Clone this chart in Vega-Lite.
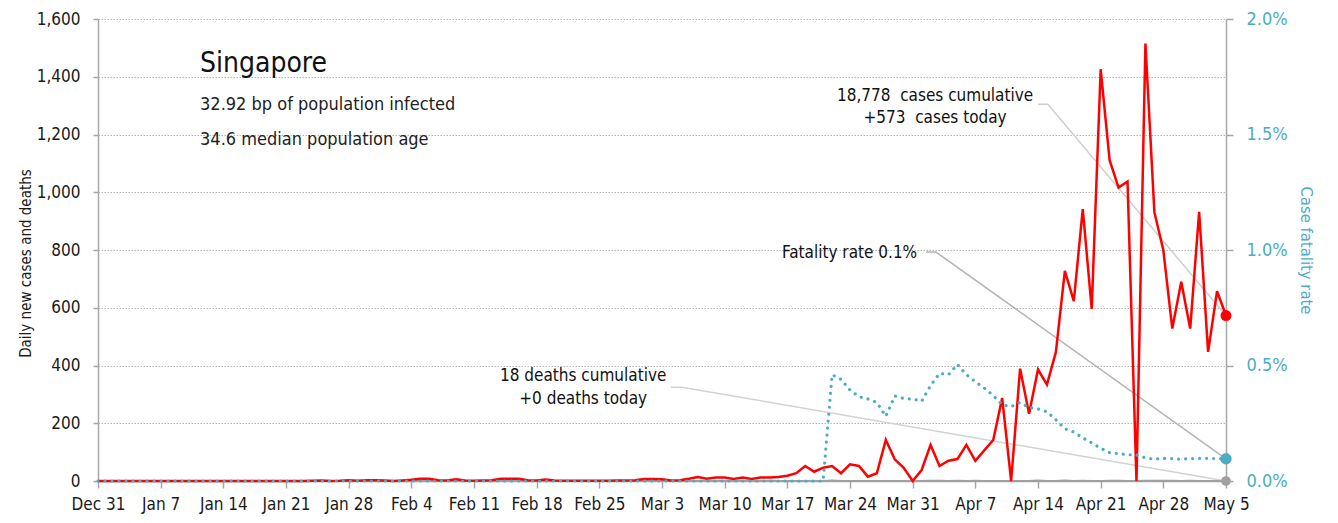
{
  "$schema": "https://vega.github.io/schema/vega-lite/v6.json",
  "width": 1128,
  "height": 462,
  "autosize": {"type": "none"},
  "padding": {"left": 98, "top": 19, "right": 112, "bottom": 42},
  "background": "white",
  "config": {
    "font": "'Liberation Sans Narrow', 'DejaVu Sans Condensed', Roboto, sans-serif",
    "view": {"stroke": null},
    "axis": {
      "domainColor": "#a6a6a6",
      "domainWidth": 1.5,
      "tickColor": "#a6a6a6",
      "tickWidth": 1.5,
      "labelColor": "#1a1a1a",
      "titleColor": "#1a1a1a",
      "titleFontWeight": "normal"
    }
  },
  "datasets": {
    "daily": [
      {"date":"2019-12-31","cases":0,"deaths":0,"rate":0},
      {"date":"2020-01-01","cases":0,"deaths":0,"rate":0},
      {"date":"2020-01-02","cases":0,"deaths":0,"rate":0},
      {"date":"2020-01-03","cases":0,"deaths":0,"rate":0},
      {"date":"2020-01-04","cases":0,"deaths":0,"rate":0},
      {"date":"2020-01-05","cases":0,"deaths":0,"rate":0},
      {"date":"2020-01-06","cases":0,"deaths":0,"rate":0},
      {"date":"2020-01-07","cases":0,"deaths":0,"rate":0},
      {"date":"2020-01-08","cases":0,"deaths":0,"rate":0},
      {"date":"2020-01-09","cases":0,"deaths":0,"rate":0},
      {"date":"2020-01-10","cases":0,"deaths":0,"rate":0},
      {"date":"2020-01-11","cases":0,"deaths":0,"rate":0},
      {"date":"2020-01-12","cases":0,"deaths":0,"rate":0},
      {"date":"2020-01-13","cases":0,"deaths":0,"rate":0},
      {"date":"2020-01-14","cases":0,"deaths":0,"rate":0},
      {"date":"2020-01-15","cases":0,"deaths":0,"rate":0},
      {"date":"2020-01-16","cases":0,"deaths":0,"rate":0},
      {"date":"2020-01-17","cases":0,"deaths":0,"rate":0},
      {"date":"2020-01-18","cases":0,"deaths":0,"rate":0},
      {"date":"2020-01-19","cases":0,"deaths":0,"rate":0},
      {"date":"2020-01-20","cases":0,"deaths":0,"rate":0},
      {"date":"2020-01-21","cases":0,"deaths":0,"rate":0},
      {"date":"2020-01-22","cases":0,"deaths":0,"rate":0},
      {"date":"2020-01-23","cases":0,"deaths":0,"rate":0},
      {"date":"2020-01-24","cases":1,"deaths":0,"rate":0},
      {"date":"2020-01-25","cases":2,"deaths":0,"rate":0},
      {"date":"2020-01-26","cases":0,"deaths":0,"rate":0},
      {"date":"2020-01-27","cases":1,"deaths":0,"rate":0},
      {"date":"2020-01-28","cases":3,"deaths":0,"rate":0},
      {"date":"2020-01-29","cases":1,"deaths":0,"rate":0},
      {"date":"2020-01-30","cases":3,"deaths":0,"rate":0},
      {"date":"2020-01-31","cases":3,"deaths":0,"rate":0},
      {"date":"2020-02-01","cases":2,"deaths":0,"rate":0},
      {"date":"2020-02-02","cases":0,"deaths":0,"rate":0},
      {"date":"2020-02-03","cases":2,"deaths":0,"rate":0},
      {"date":"2020-02-04","cases":4,"deaths":0,"rate":0},
      {"date":"2020-02-05","cases":8,"deaths":0,"rate":0},
      {"date":"2020-02-06","cases":8,"deaths":0,"rate":0},
      {"date":"2020-02-07","cases":3,"deaths":0,"rate":0},
      {"date":"2020-02-08","cases":2,"deaths":0,"rate":0},
      {"date":"2020-02-09","cases":6,"deaths":0,"rate":0},
      {"date":"2020-02-10","cases":2,"deaths":0,"rate":0},
      {"date":"2020-02-11","cases":1,"deaths":0,"rate":0},
      {"date":"2020-02-12","cases":2,"deaths":0,"rate":0},
      {"date":"2020-02-13","cases":3,"deaths":0,"rate":0},
      {"date":"2020-02-14","cases":8,"deaths":0,"rate":0},
      {"date":"2020-02-15","cases":8,"deaths":0,"rate":0},
      {"date":"2020-02-16","cases":8,"deaths":0,"rate":0},
      {"date":"2020-02-17","cases":3,"deaths":0,"rate":0},
      {"date":"2020-02-18","cases":2,"deaths":0,"rate":0},
      {"date":"2020-02-19","cases":5,"deaths":0,"rate":0},
      {"date":"2020-02-20","cases":2,"deaths":0,"rate":0},
      {"date":"2020-02-21","cases":1,"deaths":0,"rate":0},
      {"date":"2020-02-22","cases":1,"deaths":0,"rate":0},
      {"date":"2020-02-23","cases":1,"deaths":0,"rate":0},
      {"date":"2020-02-24","cases":1,"deaths":0,"rate":0},
      {"date":"2020-02-25","cases":1,"deaths":0,"rate":0},
      {"date":"2020-02-26","cases":1,"deaths":0,"rate":0},
      {"date":"2020-02-27","cases":2,"deaths":0,"rate":0},
      {"date":"2020-02-28","cases":2,"deaths":0,"rate":0},
      {"date":"2020-02-29","cases":3,"deaths":0,"rate":0},
      {"date":"2020-03-01","cases":7,"deaths":0,"rate":0},
      {"date":"2020-03-02","cases":7,"deaths":0,"rate":0},
      {"date":"2020-03-03","cases":6,"deaths":0,"rate":0},
      {"date":"2020-03-04","cases":2,"deaths":0,"rate":0},
      {"date":"2020-03-05","cases":3,"deaths":0,"rate":0},
      {"date":"2020-03-06","cases":8,"deaths":0,"rate":0},
      {"date":"2020-03-07","cases":14,"deaths":0,"rate":0},
      {"date":"2020-03-08","cases":8,"deaths":0,"rate":0},
      {"date":"2020-03-09","cases":12,"deaths":0,"rate":0},
      {"date":"2020-03-10","cases":12,"deaths":0,"rate":0},
      {"date":"2020-03-11","cases":7,"deaths":0,"rate":0},
      {"date":"2020-03-12","cases":12,"deaths":0,"rate":0},
      {"date":"2020-03-13","cases":7,"deaths":0,"rate":0},
      {"date":"2020-03-14","cases":12,"deaths":0,"rate":0},
      {"date":"2020-03-15","cases":12,"deaths":0,"rate":0},
      {"date":"2020-03-16","cases":14,"deaths":0,"rate":0},
      {"date":"2020-03-17","cases":18,"deaths":0,"rate":0},
      {"date":"2020-03-18","cases":27,"deaths":0,"rate":0},
      {"date":"2020-03-19","cases":52,"deaths":0,"rate":0},
      {"date":"2020-03-20","cases":32,"deaths":0,"rate":0},
      {"date":"2020-03-21","cases":46,"deaths":0,"rate":0},
      {"date":"2020-03-22","cases":52,"deaths":2,"rate":0.0046},
      {"date":"2020-03-23","cases":27,"deaths":0,"rate":0.0044},
      {"date":"2020-03-24","cases":58,"deaths":0,"rate":0.00394},
      {"date":"2020-03-25","cases":52,"deaths":0,"rate":0.00365},
      {"date":"2020-03-26","cases":15,"deaths":0,"rate":0.00355},
      {"date":"2020-03-27","cases":27,"deaths":0,"rate":0.0034},
      {"date":"2020-03-28","cases":142,"deaths":0,"rate":0.0028},
      {"date":"2020-03-29","cases":75,"deaths":0,"rate":0.00368},
      {"date":"2020-03-30","cases":46,"deaths":0,"rate":0.00357},
      {"date":"2020-03-31","cases":0,"deaths":0,"rate":0.00355},
      {"date":"2020-04-01","cases":38,"deaths":0,"rate":0.00345},
      {"date":"2020-04-02","cases":125,"deaths":1,"rate":0.00413},
      {"date":"2020-04-03","cases":52,"deaths":1,"rate":0.00466},
      {"date":"2020-04-04","cases":70,"deaths":0,"rate":0.0046},
      {"date":"2020-04-05","cases":76,"deaths":1,"rate":0.00505},
      {"date":"2020-04-06","cases":125,"deaths":0,"rate":0.0046},
      {"date":"2020-04-07","cases":70,"deaths":1,"rate":0.0043},
      {"date":"2020-04-08","cases":106,"deaths":0,"rate":0.00402},
      {"date":"2020-04-09","cases":142,"deaths":0,"rate":0.0037},
      {"date":"2020-04-10","cases":287,"deaths":0,"rate":0.0033},
      {"date":"2020-04-11","cases":0,"deaths":0,"rate":0.00322},
      {"date":"2020-04-12","cases":389,"deaths":0,"rate":0.0034},
      {"date":"2020-04-13","cases":233,"deaths":0,"rate":0.00318},
      {"date":"2020-04-14","cases":386,"deaths":2,"rate":0.00312},
      {"date":"2020-04-15","cases":334,"deaths":0,"rate":0.003},
      {"date":"2020-04-16","cases":447,"deaths":0,"rate":0.00265},
      {"date":"2020-04-17","cases":728,"deaths":2,"rate":0.00226},
      {"date":"2020-04-18","cases":623,"deaths":0,"rate":0.00212},
      {"date":"2020-04-19","cases":942,"deaths":1,"rate":0.00187},
      {"date":"2020-04-20","cases":596,"deaths":0,"rate":0.00165},
      {"date":"2020-04-21","cases":1426,"deaths":0,"rate":0.00142},
      {"date":"2020-04-22","cases":1111,"deaths":1,"rate":0.00122},
      {"date":"2020-04-23","cases":1016,"deaths":1,"rate":0.00118},
      {"date":"2020-04-24","cases":1037,"deaths":0,"rate":0.00114},
      {"date":"2020-04-25","cases":0,"deaths":0,"rate":0.00113},
      {"date":"2020-04-26","cases":1515,"deaths":1,"rate":0.001},
      {"date":"2020-04-27","cases":931,"deaths":1,"rate":0.00094},
      {"date":"2020-04-28","cases":799,"deaths":1,"rate":0.00098},
      {"date":"2020-04-29","cases":528,"deaths":1,"rate":0.00097},
      {"date":"2020-04-30","cases":690,"deaths":0,"rate":0.00094},
      {"date":"2020-05-01","cases":528,"deaths":1,"rate":0.00097},
      {"date":"2020-05-02","cases":932,"deaths":0,"rate":0.00098},
      {"date":"2020-05-03","cases":447,"deaths":0,"rate":0.00098},
      {"date":"2020-05-04","cases":657,"deaths":0,"rate":0.00097},
      {"date":"2020-05-05","cases":573,"deaths":0,"rate":0.00096}
    ],
    "last": [
      {"date":"2020-05-05","cases":573,"deaths":0,"rate":0.00096}
    ],
    "leaders": [
      {"grp":"c","ord":1,"date":"2020-04-14T00:00:00Z","val":1305},
      {"grp":"c","ord":2,"date":"2020-04-15T02:24:00Z","val":1305},
      {"grp":"c","ord":3,"date":"2020-05-05T00:00:00Z","val":573},
      {"grp":"f","ord":1,"date":"2020-04-01T12:00:00Z","val":793},
      {"grp":"f","ord":2,"date":"2020-04-02T14:24:00Z","val":793},
      {"grp":"f","ord":3,"date":"2020-05-05T00:00:00Z","val":77},
      {"grp":"d","ord":1,"date":"2020-03-04T00:00:00Z","val":325},
      {"grp":"d","ord":2,"date":"2020-03-05T04:48:00Z","val":325},
      {"grp":"d","ord":3,"date":"2020-05-05T00:00:00Z","val":0}
    ],
    "ctext": [
      {"date":"2020-04-02T12:00:00Z","val":1333,"txt":"18,778\u00a0 cases cumulative"},
      {"date":"2020-04-02T12:00:00Z","val":1257,"txt":"+573\u00a0 cases today"},
      {"date":"2020-02-23T04:48:00Z","val":364,"txt":"18 deaths cumulative"},
      {"date":"2020-02-23T04:48:00Z","val":284,"txt":"+0 deaths today"}
    ],
    "rtext": [
      {"date":"2020-03-31T12:00:00Z","val":790,"txt":"Fatality rate 0.1%"}
    ],
    "ttext": [
      {"date":"2020-01-11T09:36:00Z","val":1444,"txt":"Singapore"}
    ],
    "stext": [
      {"date":"2020-01-11T09:36:00Z","val":1302,"txt":"32.92 bp of population infected"},
      {"date":"2020-01-11T09:36:00Z","val":1181,"txt":"34.6 median population age"}
    ]
  },
  "encoding": {
    "x": {
      "field": "date",
      "type": "temporal",
      "scale": {
        "type": "utc",
        "domain": [
          {"year": 2019, "month": 12, "date": 31, "utc": true},
          {"year": 2020, "month": 5, "date": 5, "utc": true}
        ]
      },
      "axis": {
        "title": null,
        "format": "%b %-d",
        "grid": false,
        "labelFlush": false,
        "labelOverlap": false,
        "labelFontSize": 17,
        "labelPadding": 8,
        "tickSize": 7,
        "values": [
          {"year": 2019, "month": 12, "date": 31, "utc": true},
          {"year": 2020, "month": 1, "date": 7, "utc": true},
          {"year": 2020, "month": 1, "date": 14, "utc": true},
          {"year": 2020, "month": 1, "date": 21, "utc": true},
          {"year": 2020, "month": 1, "date": 28, "utc": true},
          {"year": 2020, "month": 2, "date": 4, "utc": true},
          {"year": 2020, "month": 2, "date": 11, "utc": true},
          {"year": 2020, "month": 2, "date": 18, "utc": true},
          {"year": 2020, "month": 2, "date": 25, "utc": true},
          {"year": 2020, "month": 3, "date": 3, "utc": true},
          {"year": 2020, "month": 3, "date": 10, "utc": true},
          {"year": 2020, "month": 3, "date": 17, "utc": true},
          {"year": 2020, "month": 3, "date": 24, "utc": true},
          {"year": 2020, "month": 3, "date": 31, "utc": true},
          {"year": 2020, "month": 4, "date": 7, "utc": true},
          {"year": 2020, "month": 4, "date": 14, "utc": true},
          {"year": 2020, "month": 4, "date": 21, "utc": true},
          {"year": 2020, "month": 4, "date": 28, "utc": true},
          {"year": 2020, "month": 5, "date": 5, "utc": true}
        ]
      }
    }
  },
  "layer": [
    {
      "layer": [
        {
          "data": {"name": "leaders"},
          "mark": {"type": "line", "strokeWidth": 1.5, "strokeJoin": "round"},
          "encoding": {
            "y": {
              "field": "val", "type": "quantitative",
              "scale": {"domain": [0, 1600]},
              "axis": {
                "title": "Daily new cases and deaths",
                "values": [0, 200, 400, 600, 800, 1000, 1200, 1400, 1600],
                "format": ",.0f",
                "grid": true,
                "gridColor": "#b5b5b5",
                "gridDash": [1.5, 1.5],
                "gridWidth": 1,
                "tickSize": 5,
                "labelPadding": 13,
                "labelFontSize": 17,
                "titleFontSize": 15,
                "titlePadding": 3,
                "titleY": 244
              }
            },
            "order": {"field": "ord", "type": "quantitative"},
            "color": {
              "field": "grp", "type": "nominal", "legend": null,
              "scale": {"domain": ["c", "f", "d"], "range": ["#cfcfcf", "#b3b3b3", "#d2d2d2"]}
            }
          }
        },
        {
          "data": {"name": "daily"},
          "mark": {"type": "line", "color": "#a0a0a0", "strokeWidth": 2},
          "encoding": {
            "y": {"field": "deaths", "type": "quantitative", "scale": {"domain": [0, 1600]}}
          }
        },
        {
          "data": {"name": "daily"},
          "mark": {"type": "line", "color": "#ff0000", "strokeWidth": 2.5},
          "encoding": {
            "y": {"field": "cases", "type": "quantitative", "scale": {"domain": [0, 1600]}}
          }
        },
        {
          "data": {"name": "last"},
          "mark": {"type": "point", "filled": true, "opacity": 1, "color": "#a0a0a0", "size": 95},
          "encoding": {
            "y": {"field": "deaths", "type": "quantitative", "scale": {"domain": [0, 1600]}}
          }
        },
        {
          "data": {"name": "last"},
          "mark": {"type": "point", "filled": true, "opacity": 1, "color": "#ff0000", "size": 120},
          "encoding": {
            "y": {"field": "cases", "type": "quantitative", "scale": {"domain": [0, 1600]}}
          }
        },
        {
          "data": {"name": "ctext"},
          "mark": {"type": "text", "align": "center", "baseline": "middle", "fontSize": 17, "color": "#111111"},
          "encoding": {
            "y": {"field": "val", "type": "quantitative", "scale": {"domain": [0, 1600]}},
            "text": {"field": "txt"}
          }
        },
        {
          "data": {"name": "rtext"},
          "mark": {"type": "text", "align": "right", "baseline": "middle", "fontSize": 17, "color": "#111111"},
          "encoding": {
            "y": {"field": "val", "type": "quantitative", "scale": {"domain": [0, 1600]}},
            "text": {"field": "txt"}
          }
        },
        {
          "data": {"name": "ttext"},
          "mark": {"type": "text", "align": "left", "baseline": "middle", "fontSize": 28, "color": "#111111"},
          "encoding": {
            "y": {"field": "val", "type": "quantitative", "scale": {"domain": [0, 1600]}},
            "text": {"field": "txt"}
          }
        },
        {
          "data": {"name": "stext"},
          "mark": {"type": "text", "align": "left", "baseline": "middle", "fontSize": 18, "color": "#222222"},
          "encoding": {
            "y": {"field": "val", "type": "quantitative", "scale": {"domain": [0, 1600]}},
            "text": {"field": "txt"}
          }
        }
      ]
    },
    {
      "layer": [
        {
          "data": {"name": "daily"},
          "mark": {"type": "line", "color": "#4bacc6", "strokeWidth": 3.2, "strokeCap": "round", "strokeDash": [0.01, 7]},
          "encoding": {
            "y": {
              "field": "rate", "type": "quantitative",
              "scale": {"domain": [0, 0.02]},
              "axis": {
                "orient": "right",
                "title": "Case fatality rate",
                "values": [0, 0.005, 0.01, 0.015, 0.02],
                "format": ".1%",
                "grid": false,
                "tickSize": 7,
                "labelPadding": 13,
                "labelFontSize": 18,
                "labelColor": "#4bacc6",
                "titleColor": "#4bacc6",
                "titleFontSize": 16.5,
                "titlePadding": 10
              }
            }
          }
        },
        {
          "data": {"name": "last"},
          "mark": {"type": "point", "filled": true, "opacity": 1, "color": "#4bacc6", "size": 130},
          "encoding": {
            "y": {"field": "rate", "type": "quantitative", "scale": {"domain": [0, 0.02]}}
          }
        }
      ]
    }
  ],
  "resolve": {"scale": {"y": "independent"}}
}
